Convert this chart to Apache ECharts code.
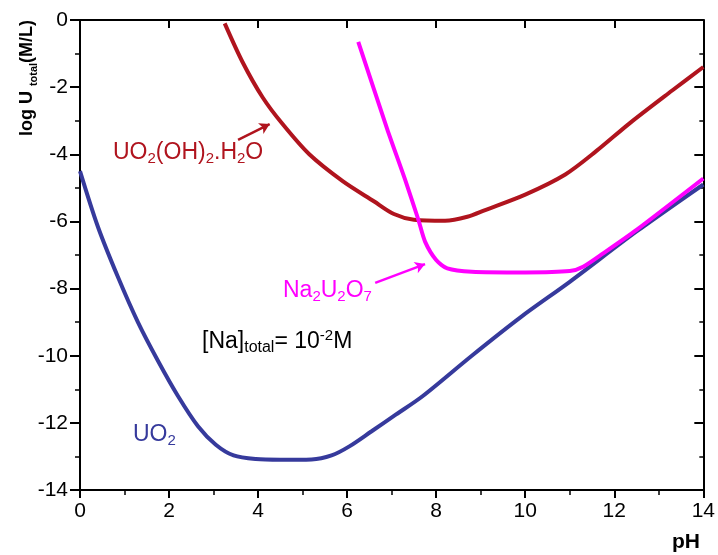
<!DOCTYPE html>
<html><head><meta charset="utf-8">
<script src="https://cdn.jsdelivr.net/npm/echarts@6/dist/echarts.min.js"></script>
<style>html,body{margin:0;padding:0;background:#fff}#c{width:718px;height:555px}</style>
</head><body><div id="c"></div>
<script>
// ---- data ----
const xTickValues = [0, 2, 4, 6, 8, 10, 12, 14];
const yTickValues = [0, -2, -4, -6, -8, -10, -12, -14];

// UO2 (pH, log U)
const uo2 = [[0,-4.5],[0.4,-6.15],[0.85,-7.65],[1.3,-9.0],[1.75,-10.15],[2.2,-11.2],[2.65,-12.1],[3.05,-12.65],[3.45,-12.97],[3.95,-13.08],[4.5,-13.1],[5.2,-13.09],[5.65,-12.97],[6.05,-12.7],[6.55,-12.25],[7.1,-11.75],[7.7,-11.2],[8.8,-10.0],[9.9,-8.85],[11.0,-7.8],[12.5,-6.3],[14,-4.9]];
// UO2(OH)2.H2O
const uo2oh2 = [[3.25,-0.1],[3.65,-1.25],[4.1,-2.3],[4.55,-3.1],[5.15,-4.0],[5.9,-4.8],[6.6,-5.4],[7.05,-5.78],[7.5,-5.95],[8.2,-5.98],[8.7,-5.86],[9.1,-5.66],[10.0,-5.2],[10.9,-4.6],[11.6,-3.9],[12.35,-3.07],[13.3,-2.1],[14,-1.4]];
// Na2U2O7
const na2u2o7 = [[6.25,-0.65],[6.9,-3.25],[7.3,-4.75],[7.6,-5.95],[7.75,-6.6],[8.0,-7.15],[8.25,-7.4],[8.8,-7.5],[10,-7.52],[11.0,-7.48],[11.3,-7.35],[11.75,-6.95],[12.5,-6.25],[14,-4.72]];
// annotation arrows (data coords)
const redArrow = [[3.55,-3.57],[4.26,-3.10]];
const magArrow = [[6.63,-7.83],[7.75,-7.27]];

const FONT = '"Liberation Sans", Arial, sans-serif';
const RED = '#b0141e', BLUE = '#363a9c', MAG = '#ff00ff';

const chart = echarts.init(document.getElementById('c'), null, {renderer: 'canvas'});

const axLine = {show: true, onZero: false, lineStyle: {color: '#000', width: 2}};
const baseX = {type: 'value', min: 0, max: 14, interval: 2, splitLine: {show: false}};
const baseY = {type: 'value', min: -14, max: 0, interval: 2, splitLine: {show: false}};

function sub(color, size) { return {fontFamily: FONT, fontSize: size, fill: color, color: color, verticalAlign: 'bottom', lineHeight: size}; }
function main(color, size, weight) { return {fontFamily: FONT, fontSize: size, fontWeight: weight || 'normal', fill: color, color: color, lineHeight: 28}; }
function sup(color, size) { return {fontFamily: FONT, fontSize: size, fill: color, color: color, verticalAlign: 'top', lineHeight: size}; }

function label(left, top, text, color, subSize) {
  return {
    type: 'text', left: left, top: top, silent: true,
    style: {
      text: text,
      rich: {m: main(color, 23), s: sub(color, subSize || 15), p: sup(color, 15)}
    }
  };
}

chart.setOption({
  animation: false,
  backgroundColor: '#fff',
  grid: {left: 80, right: 11, top: 20, bottom: 65, containLabel: false},
  xAxis: [
    Object.assign({}, baseX, {
      position: 'bottom',
      axisLine: axLine,
      axisTick: {show: true, length: 8, lineStyle: {color: '#000', width: 2}},
      minorTick: {show: true, splitNumber: 2, length: 5, lineStyle: {color: '#000', width: 1.5}},
      axisLabel: {fontFamily: FONT, fontSize: 21, color: '#000', margin: 11,
        customValues: xTickValues}
    }),
    Object.assign({}, baseX, {
      position: 'top',
      axisLine: axLine,
      axisTick: {show: true, inside: true, length: 8, lineStyle: {color: '#000', width: 2}},
      axisLabel: {show: false}
    })
  ],
  yAxis: [
    Object.assign({}, baseY, {
      position: 'left',
      axisLine: axLine,
      axisTick: {show: true, length: 10, lineStyle: {color: '#000', width: 2}},
      minorTick: {show: true, splitNumber: 2, length: 5, lineStyle: {color: '#000', width: 1.5}},
      axisLabel: {fontFamily: FONT, fontSize: 21, color: '#000', margin: 12,
        customValues: yTickValues}
    }),
    Object.assign({}, baseY, {
      position: 'right',
      axisLine: axLine,
      axisTick: {show: true, inside: true, length: 9, lineStyle: {color: '#000', width: 2}},
      minorTick: {show: true, splitNumber: 2, length: 4, lineStyle: {color: '#000', width: 1.5}},
      axisLabel: {show: false}
    })
  ],
  series: [
    {type: 'line', name: 'UO2', data: uo2, showSymbol: false, smooth: 0.3,
      lineStyle: {color: BLUE, width: 4}, z: 2},
    {type: 'line', name: 'UO2(OH)2.H2O', data: uo2oh2, showSymbol: false, smooth: 0.3,
      lineStyle: {color: RED, width: 4}, z: 3,
      markLine: {silent: true, symbol: ['none', 'arrow'], symbolSize: [9, 10], label: {show: false},
        lineStyle: {color: RED, width: 2.5, type: 'solid'},
        data: [[{coord: redArrow[0]}, {coord: redArrow[1]}]]}},
    {type: 'line', name: 'Na2U2O7', data: na2u2o7, showSymbol: false, smooth: 0.25,
      lineStyle: {color: MAG, width: 4}, z: 4,
      markLine: {silent: true, symbol: ['none', 'arrow'], symbolSize: [9, 10], label: {show: false},
        lineStyle: {color: MAG, width: 2.5, type: 'solid'},
        data: [[{coord: magArrow[0]}, {coord: magArrow[1]}]]}}
  ],
  graphic: [
    label(113, 141, '{m|UO}{s|2}{m|(OH)}{s|2}{m|.H}{s|2}{m|O}', RED),
    label(283, 279, '{m|Na}{s|2}{m|U}{s|2}{m|O}{s|7}', MAG),
    label(202, 328, '{m|[Na]}{s|total}{m|= 10}{p|-2}{m|M}', '#000', 16),
    label(133, 423, '{m|UO}{s|2}', BLUE),
    {
      type: 'text', x: 27, y: 78, rotation: Math.PI / 2, silent: true,
      style: {
        text: '{m|log U }{s|total}{m|(M/L)}',
        align: 'center', verticalAlign: 'middle',
        rich: {
          m: {fontFamily: FONT, fontSize: 18, fontWeight: 'bold', fill: '#000', lineHeight: 24},
          s: {fontFamily: FONT, fontSize: 11, fontWeight: 'bold', fill: '#000', verticalAlign: 'bottom', lineHeight: 11}
        }
      }
    },
    {
      type: 'text', left: 672, top: 532, silent: true,
      style: {text: 'pH', font: 'bold 21px ' + FONT, fill: '#000'}
    }
  ]
});
</script>
</body></html>
